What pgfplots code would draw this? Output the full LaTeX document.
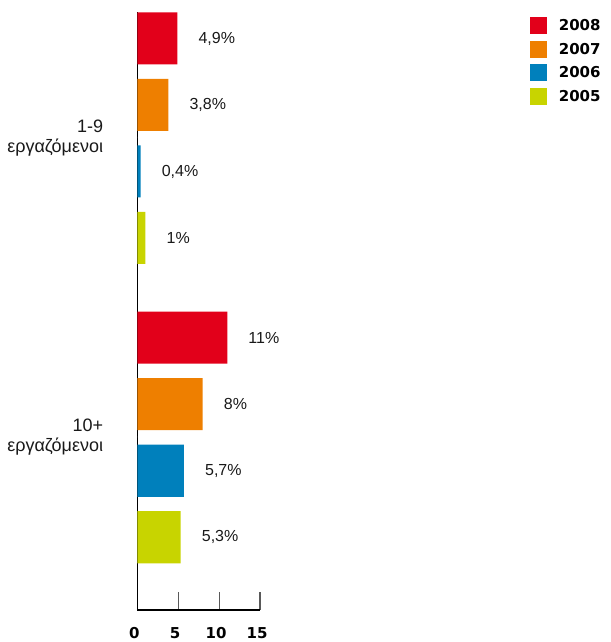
\documentclass[border=0pt]{standalone}
\usepackage{pgfplots}
\pgfplotsset{compat=1.18}
\usepackage{fontspec}
\setmainfont{Liberation Sans}
\newfontfamily\dv{DejaVu Sans}
\definecolor{c2008}{HTML}{E2001A}
\definecolor{c2007}{HTML}{EE7F00}
\definecolor{c2006}{HTML}{0080BC}
\definecolor{c2005}{HTML}{C8D400}

\begin{document}
\begin{tikzpicture}
\useasboundingbox (0,0) rectangle (610pt,642pt);
\begin{axis}[
    at={(137.3pt,32pt)}, anchor=south west,
    scale only axis,
    width=122.7pt, height=597.5pt,
    xmin=0, xmax=15,
    ymin=-1.094, ymax=7.891,
    xbar, bar shift=0pt, bar width=0.782,
    axis lines=left,
    axis line style={-, line width=1.3pt, black},
    xtick={0,5,10,15}, xticklabels={0,5,10,15},
    ytick={1.5,6},
    yticklabels={{10+\\εργαζόμενοι},{1-9\\εργαζόμενοι}},
    tick align=inside, major tick length=18pt,
    xtick style={line width=1.2pt, draw=black!65},
    ytick style={draw=none},
    x tick label style={anchor=north, inner sep=0pt, yshift=-17pt, xshift=-3pt,
        font=\dv\bfseries\fontsize{15}{18}\selectfont},
    y tick label style={anchor=east, align=right, inner sep=0pt, xshift=-34pt,
        font=\fontsize{18}{20}\selectfont, text=black!90},
    /pgf/number format/assume math mode=true,
    point meta=x,
    nodes near coords={\pgfmathprintnumber[use comma]{\pgfplotspointmeta}\%},
    every node near coord/.append style={anchor=west, inner sep=0pt, xshift=21pt,
        font=\fontsize{16}{18}\selectfont, text=black!90},
    legend image code/.code={\fill[#1] (0pt,-8.5pt) rectangle (17pt,8.5pt);},
    legend cell align=left,
    legend style={at={(axis description cs:3.2,0.9925)}, anchor=north west,
        draw=none, fill=none, inner sep=0pt, nodes={inner sep=0pt},
        row sep=6.6pt,
        /tikz/every odd column/.append style={column sep=11.7pt},
        font=\dv\bfseries\fontsize{15}{18}\selectfont},
]
\addplot[fill=c2008, draw=none] coordinates {(4.9,7.5) (11,3)};
\addlegendentry{2008}
\addplot[fill=c2007, draw=none] coordinates {(3.8,6.5) (8,2)};
\addlegendentry{2007}
\addplot[fill=c2006, draw=none] coordinates {(0.4,5.5) (5.7,1)};
\addlegendentry{2006}
\addplot[fill=c2005, draw=none] coordinates {(1,4.5) (5.3,0)};
\addlegendentry{2005}

\draw[line width=1.2pt, black!85] (axis cs:0,6) -- ++(-25pt,0);
\draw[line width=1.2pt, black!85] (axis cs:0,1.5) -- ++(-25pt,0);
\end{axis}
\end{tikzpicture}
\end{document}
